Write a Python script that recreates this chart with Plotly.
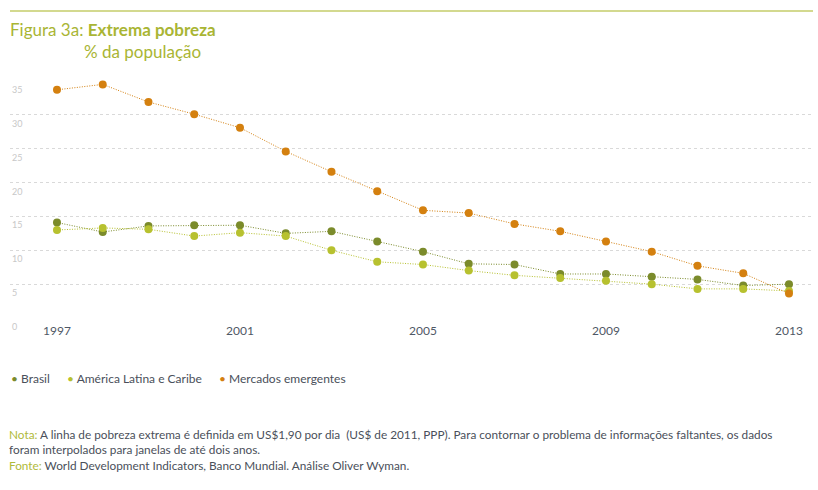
import plotly.graph_objects as go

years = list(range(1997, 2014))
brasil = [14.1, 12.7, 13.6, 13.7, 13.7, 12.5, 12.8, 11.3, 9.8, 8.0, 7.9, 6.5, 6.5, 6.1, 5.7, 4.8, 5.0]
alc = [13.0, 13.3, 13.1, 12.1, 12.6, 12.1, 10.0, 8.3, 7.9, 7.0, 6.3, 5.9, 5.5, 5.0, 4.3, 4.3, 4.0]
emergentes = [33.7, 34.5, 31.9, 30.1, 28.1, 24.6, 21.6, 18.7, 15.9, 15.5, 13.9, 12.8, 11.3, 9.8, 7.7, 6.6, 3.6]
series_names = ["Brasil", "América Latina e Caribe", "Mercados emergentes"]
colors = ["#7B8B2B", "#B7C12F", "#D4800F"]
y_ticks = [0, 5, 10, 15, 20, 25, 30, 35]
x_ticks = [1997, 2001, 2005, 2009, 2013]

FONT = "Lato"
W, H = 818, 490
L, R, T, B = 10, 5, 81, 172
PH = H - T - B
PW = W - L - R


def py(p):  # pixel y (from top) -> paper y
    return (H - B - p) / PH


def px(p):  # pixel x -> paper x
    return (p - L) / PW


fig = go.Figure()
for name, vals, c in zip(series_names, [brasil, alc, emergentes], colors):
    fig.add_trace(go.Scatter(
        x=years, y=vals, name=name, mode="lines+markers",
        line=dict(color=c, width=1, dash="1px,1.5px"),
        marker=dict(color=c, size=8),
        cliponaxis=False, showlegend=False,
    ))

fig.update_layout(
    width=W, height=H,
    margin=dict(l=L, r=R, t=T, b=B),
    paper_bgcolor="white", plot_bgcolor="white",
    font=dict(family=FONT, size=12, color="#4a4f5a"),
    showlegend=False,
    xaxis=dict(range=[1995.973, 2013.525], tickvals=x_ticks, ticktext=[str(v) for v in x_ticks],
               showgrid=False, zeroline=False, showline=False, ticks="", ticklabelstandoff=4,
               tickfont=dict(family=FONT, size=12, color="#4f5866")),
    yaxis=dict(range=[0, 35], tickvals=y_ticks, showticklabels=False,
               showgrid=True, gridcolor="#d9d9d9", griddash="dot", gridwidth=1,
               zeroline=False, showline=False),
)

for v in y_ticks:
    fig.add_annotation(x=0, xref="paper", y=v, yref="y", xanchor="left", yanchor="top",
                       text=str(v), showarrow=False, yshift=-1,
                       font=dict(family=FONT, size=9, color="#c8c8c8"))

# legend drawn as text items
legend_x = [9, 65, 217]
for name, c, lx in zip(series_names, colors, legend_x):
    fig.add_annotation(x=px(lx), xref="paper", y=py(378), yref="paper", xanchor="left", yanchor="middle",
                       text=f"<span style='color:{c}'>•</span> {name}", showarrow=False,
                       font=dict(family=FONT, size=12, color="#4a4f5a"))

# top rule
fig.add_shape(type="line", xref="paper", yref="paper", x0=0, x1=1.0, y0=py(11), y1=py(11),
              line=dict(color="#C5CD6A", width=1.5))

title_col = "#A9B534"
fig.add_annotation(x=px(8), xref="paper", y=py(29), yref="paper", xanchor="left", yanchor="middle",
                   text="Figura 3a: <b>Extrema pobreza</b>", showarrow=False,
                   font=dict(family=FONT, size=17, color=title_col))
fig.add_annotation(x=px(82), xref="paper", y=py(52), yref="paper", xanchor="left", yanchor="middle",
                   text="% da população", showarrow=False,
                   font=dict(family=FONT, size=17, color=title_col))

note_text = (
    "<span style='color:#B0BA3A'>Nota:</span> A linha de pobreza extrema é definida em US$1,90 por dia  "
    "(US$ de 2011, PPP). Para contornar o problema de informações faltantes, os dados"
    "<br>foram interpolados para janelas de até dois anos."
    "<br><span style='color:#B0BA3A'>Fonte:</span> World Development Indicators, Banco Mundial. Análise Oliver Wyman."
)
fig.add_annotation(x=px(8), xref="paper", y=py(450), yref="paper", xanchor="left", yanchor="middle",
                   text=note_text, showarrow=False, align="left", borderpad=0,
                   font=dict(family="Liberation Sans Narrow, " + FONT, size=11.8, color="#4a4f5a"))

fig.write_html("out.html", post_script="document.body.style.margin='0';",
               config={"displayModeBar": False})
